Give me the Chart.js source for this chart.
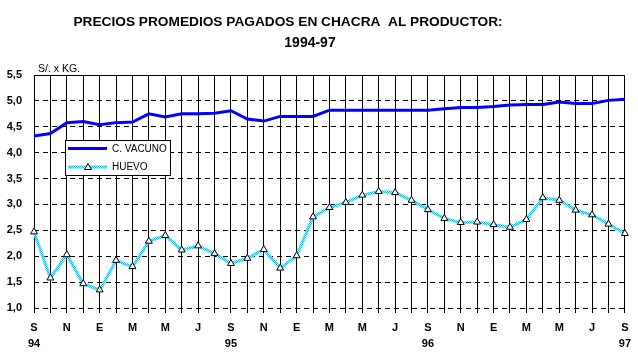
<!DOCTYPE html>
<html>
<head>
<meta charset="utf-8">
<script src="https://cdn.jsdelivr.net/npm/chart.js@4"></script>
<style>
  body { margin: 0; background: #fff; }
  #wrap { width: 638px; height: 359px; }
</style>
</head>
<body>
<div id="wrap"><canvas id="my-chart" width="638" height="359"></canvas></div>
<script>
// monthly, Sep 1994 .. Sep 1997
const months = ["S","O","N","D","E","F","M","A","M","J","J","A",
                "S","O","N","D","E","F","M","A","M","J","J","A",
                "S","O","N","D","E","F","M","A","M","J","J","A","S"];
const years = ["94", "95", "96", "97"]; // under every September
const vacuno = [4.32, 4.37, 4.58, 4.60, 4.54, 4.58, 4.59, 4.75, 4.69, 4.75, 4.75, 4.76,
                4.81, 4.65, 4.61, 4.70, 4.70, 4.70, 4.82, 4.82, 4.82, 4.82, 4.82, 4.82,
                4.82, 4.85, 4.87, 4.87, 4.89, 4.92, 4.93, 4.93, 4.98, 4.95, 4.95, 5.01, 5.03];
const huevo = [2.47, 1.58, 2.03, 1.47, 1.35, 1.92, 1.80, 2.29, 2.40, 2.12, 2.20, 2.05,
               1.86, 1.96, 2.13, 1.77, 2.01, 2.76, 2.94, 3.04, 3.18, 3.25, 3.23, 3.08,
               2.90, 2.73, 2.65, 2.66, 2.61, 2.56, 2.71, 3.13, 3.08, 2.89, 2.80, 2.62, 2.44];
const seriesNames = ["C. VACUNO", "HUEVO"];

const FONT = "Arial, 'Liberation Sans', sans-serif";

// hatched cyan stroke for the egg series
function hatch() {
  const c = document.createElement("canvas");
  c.width = 2; c.height = 2;
  const g = c.getContext("2d");
  g.fillStyle = "#b8ecff"; g.fillRect(0, 0, 2, 2);
  g.fillStyle = "#18b4ee"; g.fillRect(0, 0, 1, 1); g.fillRect(1, 1, 1, 1);
  return g.createPattern(c, "repeat");
}
const huevoStroke = hatch();

const decor = {
  id: "decor",
  beforeDatasetsDraw(chart) {
    const { ctx, chartArea: a } = chart;
    ctx.save();
    ctx.strokeStyle = "#000";
    ctx.lineWidth = 1;
    ctx.beginPath();
    ctx.moveTo(a.left, a.top + 0.5);
    ctx.lineTo(a.right, a.top + 0.5);
    ctx.stroke();
    ctx.restore();
  },
  afterDraw(chart) {
    const { ctx } = chart;
    ctx.save();
    ctx.fillStyle = "#000";
    ctx.textBaseline = "middle";
    ctx.textAlign = "center";
    ctx.font = "bold 13.7px " + FONT;
    ctx.fillText("PRECIOS PROMEDIOS PAGADOS EN CHACRA  AL PRODUCTOR:", 288, 22);
    ctx.font = "bold 14px " + FONT;
    ctx.fillText("1994-97", 310, 43);
    ctx.textAlign = "left";
    ctx.font = "10.5px " + FONT;
    ctx.fillText("S/. x KG.", 38, 69);

    // legend
    ctx.fillStyle = "#fff";
    ctx.fillRect(65, 140, 105, 35);
    ctx.strokeStyle = "#000";
    ctx.lineWidth = 1;
    ctx.strokeRect(65.5, 140.5, 105, 35);
    ctx.lineWidth = 3;
    ctx.strokeStyle = chart.data.datasets[0].borderColor;
    ctx.beginPath(); ctx.moveTo(68, 148.5); ctx.lineTo(107, 148.5); ctx.stroke();
    ctx.strokeStyle = huevoStroke;
    ctx.beginPath(); ctx.moveTo(68, 167); ctx.lineTo(107, 167); ctx.stroke();
    ctx.lineWidth = 1;
    ctx.fillStyle = "#fff";
    ctx.strokeStyle = "#000";
    ctx.beginPath();
    ctx.moveTo(88, 163.5); ctx.lineTo(91.5, 169.5); ctx.lineTo(84.5, 169.5); ctx.closePath();
    ctx.fill(); ctx.stroke();
    ctx.fillStyle = "#000";
    ctx.font = "10px " + FONT;
    ctx.fillText(seriesNames[0], 112, 149.5);
    ctx.fillText(seriesNames[1], 112, 167.5);
    ctx.restore();
  }
};

const ctx = document.getElementById("my-chart").getContext("2d");
const chart = new Chart(ctx, {
  type: "line",
  data: {
    labels: months,
    datasets: [
      {
        label: seriesNames[0],
        data: vacuno,
        borderColor: "#0000ff",
        borderWidth: 3,
        pointRadius: 0,
        tension: 0,
      },
      {
        label: seriesNames[1],
        data: huevo,
        borderColor: huevoStroke,
        borderWidth: 3,
        pointStyle: "triangle",
        pointRadius: 4,
        pointBackgroundColor: "#fff",
        pointBorderColor: "#000",
        pointBorderWidth: 1,
        tension: 0,
      },
    ],
  },
  options: {
    responsive: false,
    animation: false,
    layout: { padding: { top: 75, right: 13, left: 0, bottom: 0 } },
    plugins: {
      legend: { display: false },
      tooltip: { enabled: false },
    },
    scales: {
      x: {
        offset: false,
        afterFit: (s) => { s.height = 51; },
        border: { display: false },
        grid: {
          color: "#000",
          lineWidth: 1,
          drawTicks: true,
          tickLength: 5,
          tickColor: "#000",
        },
        ticks: {
          autoSkip: false,
          maxRotation: 0,
          padding: 7,
          color: "#000",
          font: { family: FONT, size: 11, weight: "bold", lineHeight: 1.45 },
          callback: function (v, i) {
            if (i % 2) return "";
            if (i % 12 === 0) return [months[i], years[i / 12]];
            return months[i];
          },
        },
      },
      y: {
        min: 1,
        max: 5.5,
        afterFit: (s) => { s.width = 34; },
        border: { display: false, dash: [5, 4] },
        grid: { color: "#000", lineWidth: 1, drawTicks: false },
        ticks: {
          stepSize: 0.5,
          padding: 12,
          color: "#000",
          font: { family: FONT, size: 11, weight: "bold" },
          callback: (v) => v.toFixed(1).replace(".", ","),
        },
      },
    },
  },
  plugins: [decor],
});
</script>
</body>
</html>
